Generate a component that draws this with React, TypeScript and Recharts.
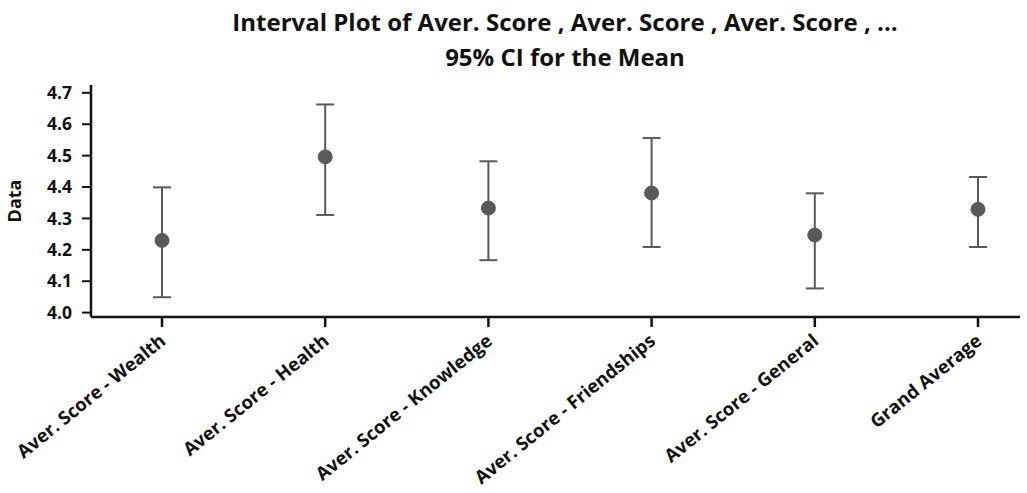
import React from 'react';
import { ComposedChart, Line, ErrorBar, XAxis, YAxis } from 'recharts';

const categories = [
  'Aver. Score - Wealth',
  'Aver. Score - Health',
  'Aver. Score - Knowledge',
  'Aver. Score - Friendships',
  'Aver. Score - General',
  'Grand Average',
];
const means = [4.23, 4.496, 4.333, 4.381, 4.247, 4.329];
const lowerCI = [4.049, 4.311, 4.167, 4.209, 4.077, 4.209];
const upperCI = [4.399, 4.663, 4.482, 4.556, 4.38, 4.432];
const yTicks = [4.0, 4.1, 4.2, 4.3, 4.4, 4.5, 4.6, 4.7];

const data = categories.map((name, i) => ({
  name,
  mean: means[i],
  ci: [means[i] - lowerCI[i], upperCI[i] - means[i]],
}));

const FONT = '"Open Sans", sans-serif';
const MARK = '#595959';

const XTick = (props: any) => {
  const { x, y, payload } = props;
  const tx = x + 5;
  const ty = y + 14;
  return (
    <text
      x={tx}
      y={ty}
      transform={`rotate(-39, ${tx}, ${ty})`}
      textAnchor="end"
      fontFamily={FONT}
      fontWeight={700}
      fontSize={18.5}
      fill="#111"
    >
      {payload.value}
    </text>
  );
};

export default function App() {
  return (
    <div style={{ position: 'absolute', left: 0, top: 0, width: 1027, height: 493, background: '#fff' }}>
      <div
        style={{
          position: 'absolute',
          left: 0,
          width: 1130,
          top: 4,
          textAlign: 'center',
          fontFamily: FONT,
          fontWeight: 700,
          fontSize: 24,
          lineHeight: '35px',
          color: '#111',
        }}
      >
        <div>Interval Plot of Aver. Score , Aver. Score , Aver. Score , ...</div>
        <div>95% CI for the Mean</div>
      </div>
      <ComposedChart
        width={1027}
        height={493}
        data={data}
        margin={{ top: 85, right: 7, bottom: 0, left: 0 }}
        style={{ position: 'absolute', left: 0, top: 0 }}
      >
        <XAxis
          dataKey="name"
          type="category"
          scale="point"
          padding={{ left: 71, right: 42 }}
          height={176}
          stroke="#111"
          strokeWidth={2.5}
          tickSize={10}
          tickLine={{ stroke: '#111', strokeWidth: 2.5 }}
          tick={<XTick />}
          interval={0}
        />
        <YAxis
          domain={[3.986, 4.725]}
          ticks={yTicks}
          width={91}
          allowDataOverflow
          stroke="#111"
          strokeWidth={2.5}
          tickSize={9}
          tickMargin={10}
          tickLine={{ stroke: '#111', strokeWidth: 2 }}
          tickFormatter={(v: number) => v.toFixed(1)}
          tick={{ fontFamily: FONT, fontWeight: 700, fontSize: 17.5, fill: '#111' }}
          label={{
            value: 'Data',
            angle: -90,
            position: 'insideLeft',
            offset: 15,
            style: { textAnchor: 'middle', fontFamily: FONT, fontWeight: 700, fontSize: 18, fill: '#111' },
          }}
        />
        <Line
          dataKey="mean"
          stroke="none"
          isAnimationActive={false}
          dot={{ r: 7, fill: MARK, stroke: MARK, strokeWidth: 1 }}
          activeDot={false}
        >
          <ErrorBar dataKey="ci" direction="y" width={9} stroke={MARK} strokeWidth={2} isAnimationActive={false} />
        </Line>
      </ComposedChart>
    </div>
  );
}
